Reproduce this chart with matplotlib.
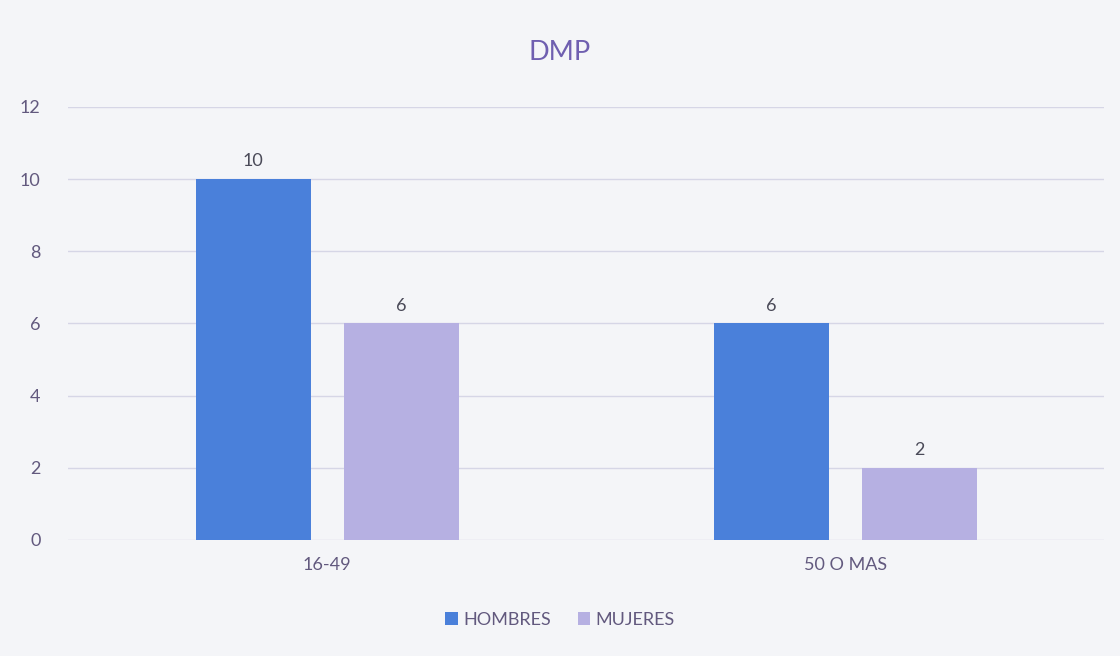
import numpy as np
import matplotlib.pyplot as plt

categorias = ["16-49", "50 O MAS"]
hombres = [10, 6]
mujeres = [6, 2]
series = ["HOMBRES", "MUJERES"]

plt.rcParams['font.family'] = ['Lato', 'DejaVu Sans']
txt = "#62597e"

fig = plt.figure(figsize=(11.2, 6.56), dpi=100, facecolor="#f4f5f8")
ax = fig.add_axes([0.061, 0.177, 0.925, 0.66])
ax.set_facecolor("#f4f5f8")

x = np.arange(len(categorias))
w = 0.222
off = 0.143
b1 = ax.bar(x - off, hombres, w, color="#4a80da", label=series[0], zorder=3)
b2 = ax.bar(x + off, mujeres, w, color="#b6b0e2", label=series[1], zorder=3)
for bars in (b1, b2):
    ax.bar_label(bars, padding=7, fontsize=13, color="#4a4a58")

ax.set_xlim(-0.5, 1.5)
ax.set_ylim(0, 12)
ax.set_yticks(range(0, 13, 2))
ax.set_xticks(x)
ax.set_xticklabels(categorias)
ax.tick_params(length=0, labelsize=13, colors=txt)
ax.tick_params(axis="y", pad=20)
ax.tick_params(axis="x", pad=12)
ax.grid(axis="y", color="#d6d6e6", linewidth=1, zorder=0)
for s in ax.spines.values():
    s.set_visible(False)

fig.text(0.5, 0.92, "DMP", ha="center", va="center", fontsize=19.5, color="#6f5fb0")
fig.legend(loc="center", bbox_to_anchor=(0.5, 0.055), ncol=2, frameon=False,
           fontsize=13, labelcolor=txt, handlelength=0.7, handleheight=0.7,
           handletextpad=0.3, columnspacing=1.5)

fig.savefig("out.png", dpi=100, facecolor=fig.get_facecolor())
